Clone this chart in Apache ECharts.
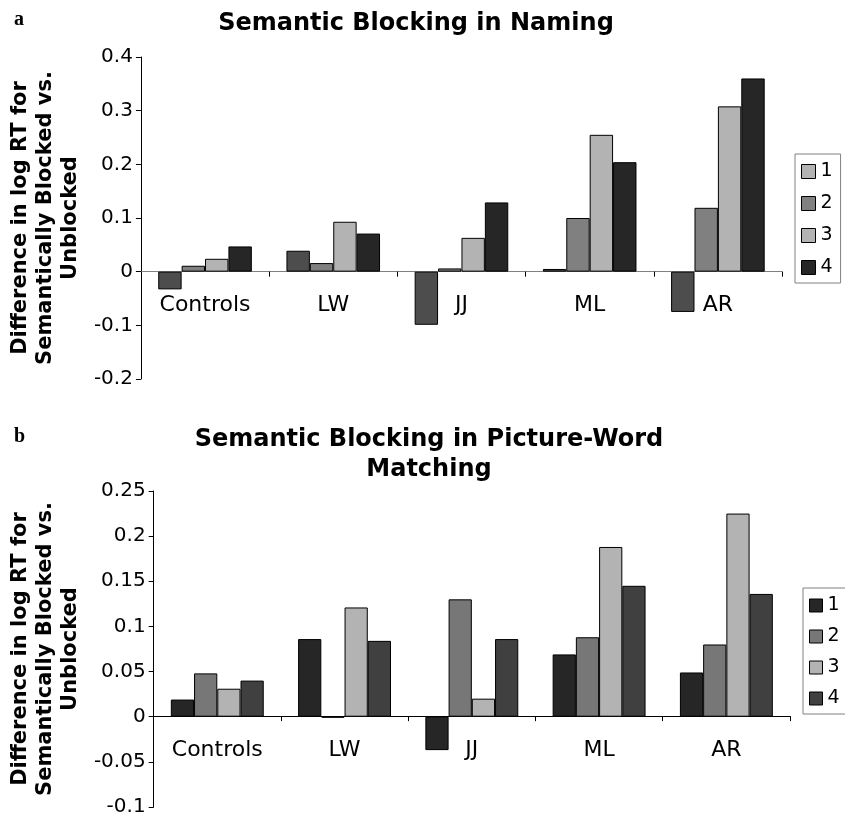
<!DOCTYPE html>
<html>
<head>
<meta charset="utf-8">
<script src="https://cdn.jsdelivr.net/npm/echarts@6/dist/echarts.min.js"></script>
<style>
html,body{margin:0;padding:0;background:#fff;}
#c1{position:absolute;left:0;top:0;width:845px;height:410px;}
#c2{position:absolute;left:0;top:410px;width:845px;height:407px;}
</style>
</head>
<body>
<div id="c1"></div>
<div id="c2"></div>
<script>
// ---- data ----
const categories = ['Controls', 'LW', 'JJ', 'ML', 'AR'];
const seriesNames = ['1', '2', '3', '4'];

const namingS1 = [-0.033, 0.039, -0.099, 0.005, -0.075];
const namingS2 = [0.011, 0.016, 0.006, 0.100, 0.119];
const namingS3 = [0.024, 0.093, 0.063, 0.255, 0.308];
const namingS4 = [0.047, 0.071, 0.129, 0.204, 0.360];

const matchS1 = [0.019, 0.086, -0.037, 0.069, 0.049];
const matchS2 = [0.048, -0.001, 0.130, 0.088, 0.080];
const matchS3 = [0.031, 0.121, 0.020, 0.188, 0.225];
const matchS4 = [0.040, 0.084, 0.086, 0.145, 0.136];

const namingAxis = { min: -0.2, max: 0.4, interval: 0.1 };
const matchAxis = { min: -0.1, max: 0.25, interval: 0.05 };

const namingTitle = 'Semantic Blocking in Naming';
const matchTitle = 'Semantic Blocking in Picture-Word\nMatching';
const yName = 'Difference in log RT for\nSemantically Blocked vs.\nUnblocked';

// ---- styles ----
const FONT = 'DejaVu Sans';
const namingColors = ['#4d4d4d', '#808080', '#b3b3b3', '#262626'];
const namingLegendColors = ['#b3b3b3', '#808080', '#b3b3b3', '#262626'];
const matchColors = ['#262626', '#777777', '#b3b3b3', '#404040'];

function buildOption(cfg) {
  // place the category axis on the value axis' zero line
  const zeroOffset = -cfg.grid.height * (0 - cfg.axis.min) / (cfg.axis.max - cfg.axis.min);
  return {
    animation: false,
    backgroundColor: '#fff',
    textStyle: { fontFamily: FONT, color: '#000' },
    title: [
      { text: cfg.letter, left: 9, top: cfg.letterTop,
        textStyle: { fontFamily: 'Liberation Serif', fontWeight: 'bold', fontSize: 20, color: '#000' } },
      { text: cfg.title, left: cfg.titleX, top: cfg.titleTop, textAlign: 'center',
        textStyle: { fontFamily: FONT, fontWeight: 'bold', fontSize: 24, lineHeight: 30, color: '#000' } }
    ],
    legend: {
      orient: 'vertical', left: cfg.legend.left, top: cfg.legend.top,
      itemWidth: cfg.legend.size, itemHeight: cfg.legend.size, itemGap: cfg.legend.gap,
      padding: cfg.legend.padding,
      borderColor: '#808080', borderWidth: 1, borderRadius: 0,
      icon: 'rect',
      textStyle: { fontFamily: FONT, fontSize: 19, color: '#000' },
      data: seriesNames.map((n, i) => ({ name: n, itemStyle: { color: cfg.legendColors[i], borderColor: '#000', borderWidth: 1 } }))
    },
    grid: cfg.grid,
    xAxis: {
      type: 'category', data: categories, position: 'bottom', offset: zeroOffset,
      axisLine: { onZero: false, lineStyle: { color: cfg.zeroColor, width: 1 } },
      axisTick: { show: true, length: 5, lineStyle: { color: '#000' } },
      axisLabel: { fontFamily: FONT, fontSize: 22, color: '#000', margin: 23 },
      splitLine: { show: false }
    },
    yAxis: {
      type: 'value', min: cfg.axis.min, max: cfg.axis.max, interval: cfg.axis.interval,
      name: yName, nameLocation: 'middle', nameRotate: 90, nameGap: cfg.nameGap,
      nameTextStyle: { fontFamily: FONT, fontWeight: 'bold', fontSize: 21, lineHeight: 25, color: '#000', align: 'center' },
      axisLine: { show: true, lineStyle: { color: '#000', width: 1 } },
      axisTick: { show: true, length: 5, lineStyle: { color: '#000' } },
      axisLabel: { fontFamily: FONT, fontSize: 20, color: '#000', margin: 8 },
      splitLine: { show: false }
    },
    series: cfg.data.map((d, i) => ({
      name: seriesNames[i], type: 'bar', data: d,
      barGap: '0%', barCategoryGap: '27%',
      itemStyle: { color: cfg.colors[i], borderColor: '#000', borderWidth: 1 }
    }))
  };
}

const c1 = echarts.init(document.getElementById('c1'), null, { renderer: 'canvas' });
c1.setOption(buildOption({
  letter: 'a', letterTop: 5,
  title: namingTitle, titleX: 411, titleTop: 4,
  legend: { left: 795, top: 154, size: 14, gap: 13, padding: [8, 8, 6, 6] },
  legendColors: namingLegendColors,
  grid: { left: 139, top: 57, width: 643, height: 322 },
  zeroColor: '#808080',
  axis: namingAxis, nameGap: 55,
  colors: namingColors,
  data: [namingS1, namingS2, namingS3, namingS4]
}));

const c2 = echarts.init(document.getElementById('c2'), null, { renderer: 'canvas' });
c2.setOption(buildOption({
  letter: 'b', letterTop: 12,
  title: matchTitle, titleX: 424, titleTop: 10,
  legend: { left: 803, top: 178, size: 13, gap: 12, padding: [8, 8, 6, 6] },
  legendColors: matchColors,
  grid: { left: 148, top: 81, width: 642, height: 318 },
  zeroColor: '#000',
  axis: matchAxis, nameGap: 65,
  colors: matchColors,
  data: [matchS1, matchS2, matchS3, matchS4]
}));
</script>
</body>
</html>
